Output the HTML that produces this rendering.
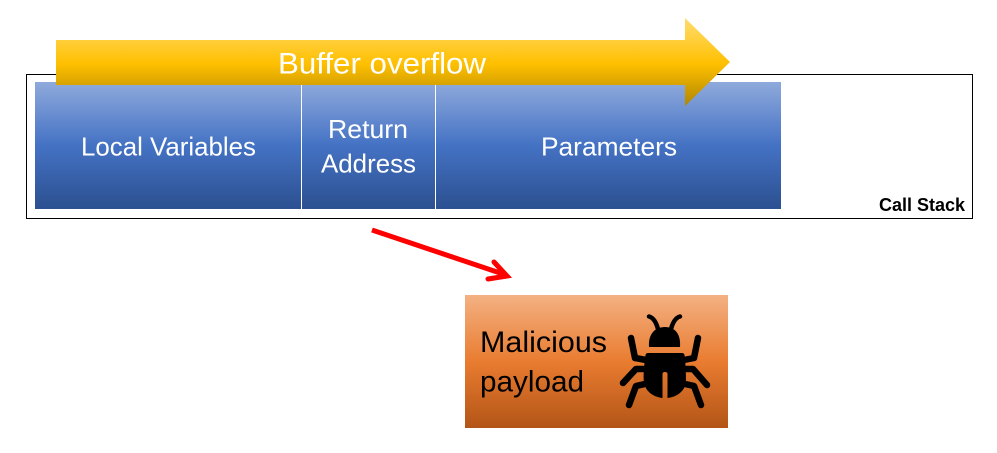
<!DOCTYPE html>
<html>
<head>
<meta charset="utf-8">
<style>
html,body{margin:0;padding:0;background:#fff;width:997px;height:453px;overflow:hidden}
svg{display:block}
text{font-family:"Liberation Sans",sans-serif}
</style>
</head>
<body>
<svg width="997" height="453" viewBox="0 0 997 453" xmlns="http://www.w3.org/2000/svg">
<defs>
<linearGradient id="b" x1="0" y1="0" x2="0" y2="1">
<stop offset="0" stop-color="#8faadc"/><stop offset=".5" stop-color="#4472c4"/><stop offset="1" stop-color="#2c5090"/>
</linearGradient>
<linearGradient id="y" gradientUnits="userSpaceOnUse" x1="0" y1="18" x2="0" y2="106">
<stop offset="0" stop-color="#ffdc70"/><stop offset=".52" stop-color="#ffc000"/><stop offset="1" stop-color="#b08600"/>
</linearGradient>
<linearGradient id="o" x1="0" y1="0" x2="0" y2="1">
<stop offset="0" stop-color="#f4b183"/><stop offset=".5" stop-color="#e97c30"/><stop offset="1" stop-color="#b35517"/>
</linearGradient>
</defs>

<rect x="26.5" y="74.5" width="946" height="144" fill="#fff" stroke="#000" stroke-width="1"/>

<rect x="35" y="82" width="746" height="127" fill="url(#b)"/>
<rect x="301" y="82" width="1" height="127" fill="#fff"/>
<rect x="435" y="82" width="1" height="127" fill="#fff"/>

<polygon points="56,40 685,40 685,18 730,62 685,106 685,85 56,85" fill="url(#y)"/>

<text x="278" y="73.5" font-size="30" fill="#fff" textLength="208" lengthAdjust="spacingAndGlyphs">Buffer overflow</text>
<text x="81" y="155.5" font-size="26" fill="#fff" textLength="175" lengthAdjust="spacingAndGlyphs">Local Variables</text>
<text x="328" y="138" font-size="26" fill="#fff" textLength="80" lengthAdjust="spacingAndGlyphs">Return</text>
<text x="321" y="172.5" font-size="26" fill="#fff" textLength="95" lengthAdjust="spacingAndGlyphs">Address</text>
<text x="541" y="155.5" font-size="26" fill="#fff" textLength="136" lengthAdjust="spacingAndGlyphs">Parameters</text>
<text x="879" y="211" font-size="18.5" font-weight="bold" fill="#000" textLength="86" lengthAdjust="spacingAndGlyphs">Call Stack</text>

<line x1="372" y1="230" x2="506" y2="275" stroke="#f00" stroke-width="5"/>
<polyline points="494,262 507,276 488,279" fill="none" stroke="#f00" stroke-width="5" stroke-linecap="round" stroke-linejoin="miter"/>

<rect x="465" y="295" width="263" height="133" fill="url(#o)"/>
<text x="480" y="352" font-size="30" fill="#000" textLength="127" lengthAdjust="spacingAndGlyphs">Malicious</text>
<text x="480" y="391.5" font-size="30" fill="#000" textLength="104" lengthAdjust="spacingAndGlyphs">payload</text>

<!-- bug -->
<g fill="#000">
<path d="M649,347 C648,334 655,327 665,327 C675,327 681,334 680,347 Z"/>
<path d="M648,353 L682,353 Q684,353 684.5,355 C686,365 686,378 686,382 C685,391 677,397 667.5,398 L667.5,374 Q667.5,372 665,372 Q662.5,372 662.5,374 L662.5,398 C653,397 645,391 644,382 C643,378 644,365 645.5,355 Q646,353 648,353 Z"/>
</g>
<g fill="none" stroke="#000" stroke-linecap="round" stroke-linejoin="round">
<g stroke-width="4.5">
<path d="M649,316.5 Q655,318 658,329"/>
<path d="M680,316.5 Q674,318 671,329"/>
</g>
<g stroke-width="6.5">
<path d="M631,338 L635,358 L646,360"/>
<path d="M698,338 L694,358 L684,360"/>
<path d="M643,369 L636,369 L623,383"/>
<path d="M686,369 L693,369 L707,385"/>
<path d="M645,384 L636,386 L629,405"/>
<path d="M685,384 L694,386 L701,405"/>
</g>
</g>
</svg>
</body>
</html>
